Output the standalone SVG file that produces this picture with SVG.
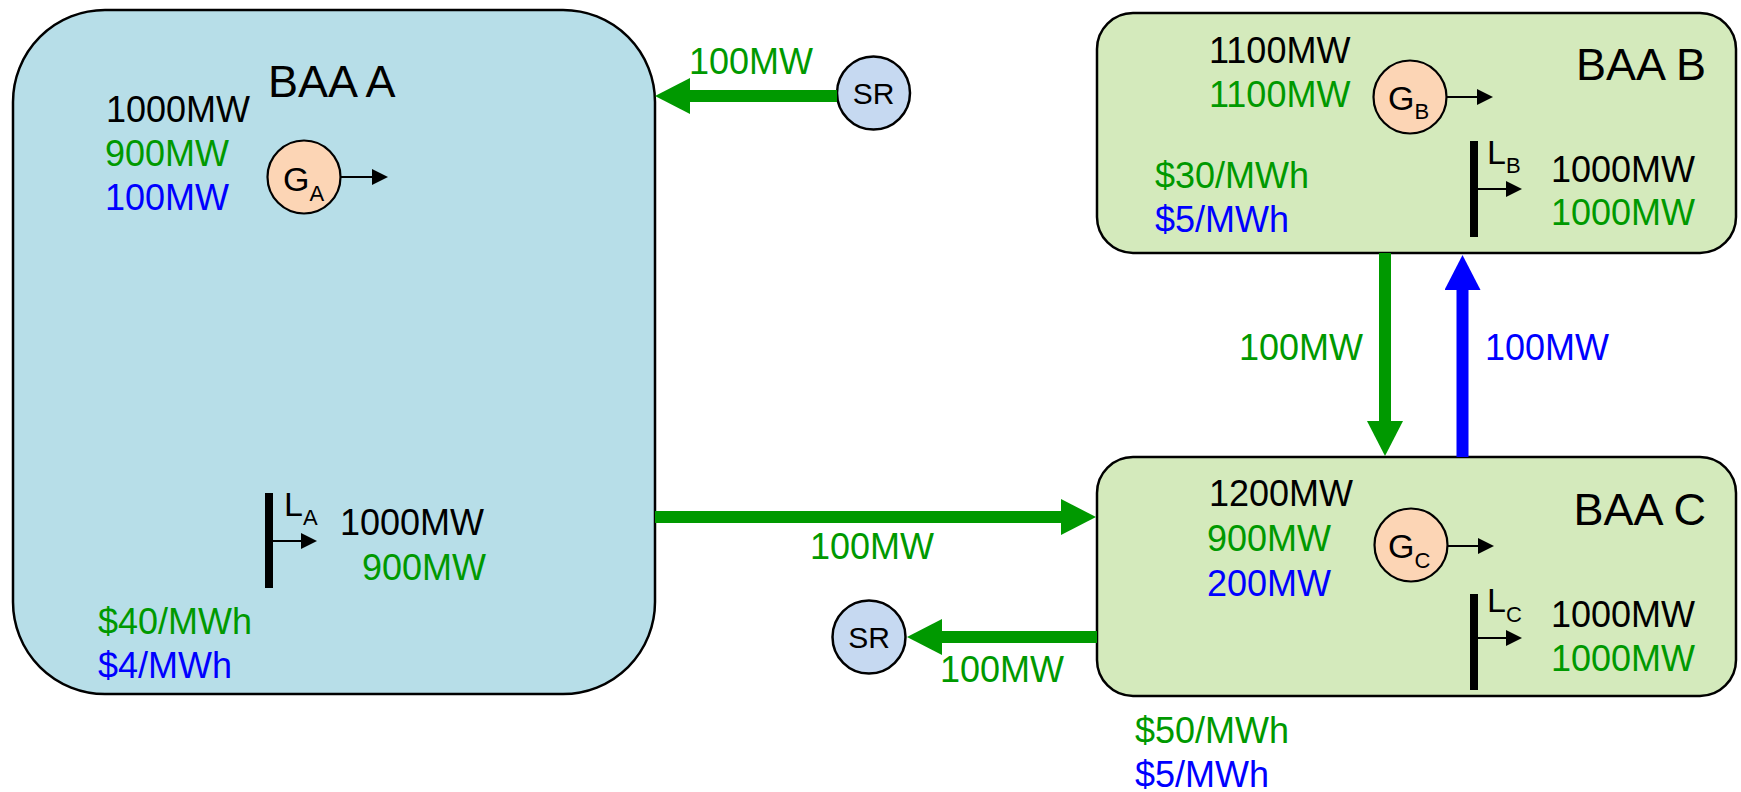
<svg xmlns="http://www.w3.org/2000/svg" width="1741" height="792" viewBox="0 0 1741 792">
  <style>
    text { font-family: "Liberation Sans", Arial, sans-serif; }
    .box { stroke: #000; stroke-width: 2.5; }
    .boxA { fill: #b7dee8; }
    .boxBC { fill: #d4eabc; }
    .title { font-size: 45px; fill: #000; }
    .val { font-size: 36px; }
    .k { fill: #000; }
    .g { fill: #009900; }
    .b { fill: #0000ff; }
    .gen { fill: #fcd5b5; stroke: #000; stroke-width: 2.2; }
    .sr { fill: #c6d9f1; stroke: #000; stroke-width: 2.5; }
    .sym { font-size: 34px; fill: #000; }
    .sub { font-size: 22px; }
    .srtxt { font-size: 30px; fill: #000; text-anchor: middle; }
    .bar { fill: #000; }
    .thin { stroke: #000; stroke-width: 2; fill: none; }
    .flowG { stroke: #009900; stroke-width: 12; fill: none; }
    .flowB { stroke: #0000ff; stroke-width: 12; fill: none; }
  </style>
  <defs>
    <marker id="headG" viewBox="0 0 35 36" markerWidth="35" markerHeight="36" refX="1" refY="18" orient="auto" markerUnits="userSpaceOnUse">
      <path d="M0,0 L35,18 L0,36 z" fill="#009900"/>
    </marker>
    <marker id="headB" viewBox="0 0 35 36" markerWidth="35" markerHeight="36" refX="1" refY="18" orient="auto" markerUnits="userSpaceOnUse">
      <path d="M0,0 L35,18 L0,36 z" fill="#0000ff"/>
    </marker>
    <marker id="headK" viewBox="0 0 16 16" markerWidth="16" markerHeight="16" refX="1" refY="8" orient="auto" markerUnits="userSpaceOnUse">
      <path d="M0,0 L16,8 L0,16 z" fill="#000"/>
    </marker>
  </defs>

  <!-- Balancing authority area A -->
  <g id="baa-a">
    <rect class="box boxA" x="13" y="10" width="642" height="684" rx="92" ry="92"/>
    <text class="title" x="268" y="97">BAA A</text>
    <text class="val k" x="106" y="122">1000MW</text>
    <text class="val g" x="105" y="166">900MW</text>
    <text class="val b" x="105" y="210">100MW</text>
    <text class="val k" x="340" y="535">1000MW</text>
    <text class="val g" x="486" y="580" text-anchor="end">900MW</text>
    <text class="val g" x="98" y="634">$40/MWh</text>
    <text class="val b" x="98" y="678">$4/MWh</text>
  </g>
  <g id="gen-a">
    <circle class="gen" cx="304" cy="177" r="36.5"/>
    <text class="sym" x="283" y="191">G<tspan class="sub" dy="10">A</tspan></text>
    <line class="thin" x1="341" y1="177" x2="373" y2="177" marker-end="url(#headK)"/>
  </g>
  <g id="load-a">
    <rect class="bar" x="265" y="493" width="8" height="95"/>
    <text class="sym" x="284" y="516">L<tspan class="sub" dy="9">A</tspan></text>
    <line class="thin" x1="273" y1="541" x2="302" y2="541" marker-end="url(#headK)"/>
  </g>

  <!-- Balancing authority area B -->
  <g id="baa-b">
    <rect class="box boxBC" x="1097" y="13" width="639" height="240" rx="36" ry="36"/>
    <text class="title" x="1706" y="80" text-anchor="end">BAA B</text>
    <text class="val k" x="1209" y="63">1100MW</text>
    <text class="val g" x="1209" y="107">1100MW</text>
    <text class="val g" x="1155" y="188">$30/MWh</text>
    <text class="val b" x="1155" y="232">$5/MWh</text>
    <text class="val k" x="1551" y="182">1000MW</text>
    <text class="val g" x="1551" y="225">1000MW</text>
  </g>
  <g id="gen-b">
    <circle class="gen" cx="1410" cy="97" r="36.5"/>
    <text class="sym" x="1388" y="110">G<tspan class="sub" dy="9">B</tspan></text>
    <line class="thin" x1="1447" y1="97" x2="1478" y2="97" marker-end="url(#headK)"/>
  </g>
  <g id="load-b">
    <rect class="bar" x="1470" y="141" width="8" height="96"/>
    <text class="sym" x="1487" y="164">L<tspan class="sub" dy="9">B</tspan></text>
    <line class="thin" x1="1478" y1="189" x2="1507" y2="189" marker-end="url(#headK)"/>
  </g>

  <!-- Balancing authority area C -->
  <g id="baa-c">
    <rect class="box boxBC" x="1097" y="457" width="639" height="239" rx="36" ry="36"/>
    <text class="title" x="1706" y="525" text-anchor="end">BAA C</text>
    <text class="val k" x="1209" y="506">1200MW</text>
    <text class="val g" x="1207" y="551">900MW</text>
    <text class="val b" x="1207" y="596">200MW</text>
    <text class="val k" x="1551" y="627">1000MW</text>
    <text class="val g" x="1551" y="671">1000MW</text>
    <text class="val g" x="1135" y="743">$50/MWh</text>
    <text class="val b" x="1135" y="787">$5/MWh</text>
  </g>
  <g id="gen-c">
    <circle class="gen" cx="1411" cy="545" r="36.5"/>
    <text class="sym" x="1388" y="558">G<tspan class="sub" dy="10">C</tspan></text>
    <line class="thin" x1="1448" y1="546" x2="1479" y2="546" marker-end="url(#headK)"/>
  </g>
  <g id="load-c">
    <rect class="bar" x="1470" y="594" width="8" height="96"/>
    <text class="sym" x="1487" y="612">L<tspan class="sub" dy="10">C</tspan></text>
    <line class="thin" x1="1478" y1="638" x2="1507" y2="638" marker-end="url(#headK)"/>
  </g>

  <!-- Spinning reserve sources -->
  <g id="sr-top">
    <circle class="sr" cx="873.5" cy="93" r="36.5"/>
    <text class="srtxt" x="873.5" y="103.5">SR</text>
  </g>
  <g id="sr-bottom">
    <circle class="sr" cx="869" cy="637" r="36.5"/>
    <text class="srtxt" x="869" y="647.5">SR</text>
  </g>

  <!-- Interchange flows -->
  <g id="connectors">
    <line class="flowG" x1="837" y1="96" x2="689" y2="96" marker-end="url(#headG)"/>
    <line class="flowG" x1="655" y1="517" x2="1062" y2="517" marker-end="url(#headG)"/>
    <line class="flowG" x1="1097" y1="637" x2="941" y2="637" marker-end="url(#headG)"/>
    <line class="flowG" x1="1385" y1="253" x2="1385" y2="422" marker-end="url(#headG)"/>
    <line class="flowB" x1="1462.5" y1="457" x2="1462.5" y2="289" marker-end="url(#headB)"/>
    <text class="val g" x="689" y="74">100MW</text>
    <text class="val g" x="810" y="559">100MW</text>
    <text class="val g" x="940" y="682">100MW</text>
    <text class="val g" x="1363" y="360" text-anchor="end">100MW</text>
    <text class="val b" x="1485" y="360">100MW</text>
  </g>
</svg>
